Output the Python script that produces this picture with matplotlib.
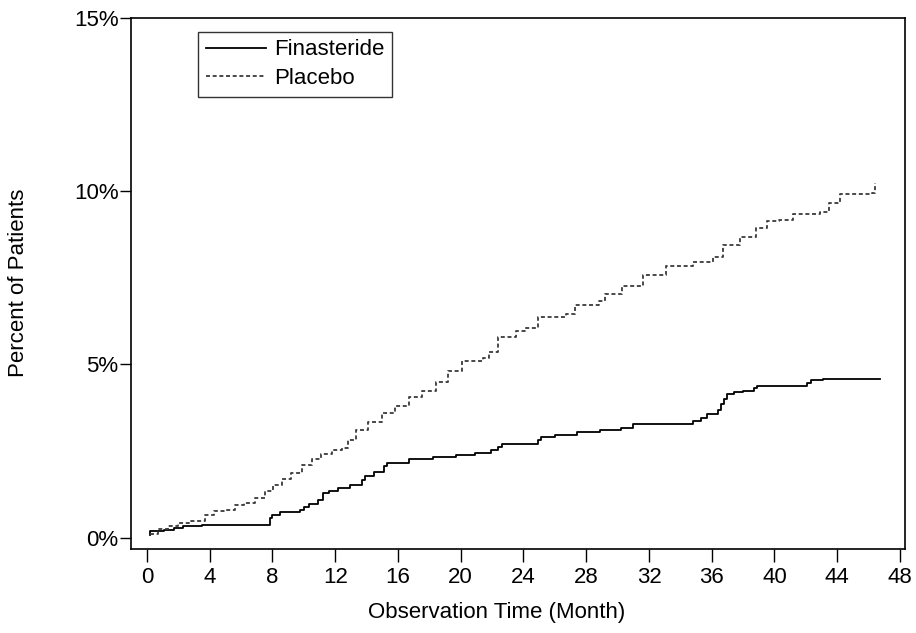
import matplotlib.pyplot as plt
from matplotlib.ticker import FuncFormatter

# step curves (month, cumulative %)
fin_t = [0.17, 0.2, 1.1, 1.7, 2.3, 3.5, 7.85, 8.0, 8.5, 9.75, 10.0, 10.3, 10.9, 11.25,
         11.6, 12.2, 12.95, 13.7, 13.9, 14.5, 15.1, 15.3, 16.7, 18.2, 19.7, 20.9, 21.9,
         22.4, 22.6, 24.9, 25.1, 26.0, 27.4, 28.9, 30.2, 31.0, 34.8, 35.3, 35.7, 36.4,
         36.6, 36.8, 37.0, 37.4, 38.0, 38.7, 38.9, 42.1, 42.3, 43.1, 46.7]
fin_p = [0.09, 0.18, 0.23, 0.28, 0.33, 0.38, 0.57, 0.66, 0.73, 0.81, 0.9, 0.98, 1.1, 1.29,
         1.34, 1.43, 1.53, 1.67, 1.77, 1.91, 2.08, 2.15, 2.28, 2.34, 2.38, 2.44, 2.54,
         2.62, 2.70, 2.83, 2.90, 2.95, 3.06, 3.12, 3.17, 3.27, 3.37, 3.44, 3.58, 3.69,
         3.86, 4.0, 4.14, 4.2, 4.24, 4.32, 4.38, 4.46, 4.54, 4.59, 4.59]

pla_t = [0.17, 0.7, 1.34, 2.0, 2.8, 3.7, 4.3, 5.0, 5.6, 6.2, 6.9, 7.5, 8.05, 8.6, 9.2,
         9.9, 10.5, 11.1, 11.8, 12.4, 12.8, 13.3, 14.1, 15.0, 15.8, 16.7, 17.5, 18.4,
         19.2, 20.1, 21.4, 21.8, 22.4, 23.5, 24.1, 24.9, 26.7, 27.3, 28.8, 29.2, 30.3,
         31.6, 33.1, 34.8, 36.1, 36.7, 37.8, 38.8, 39.5, 40.3, 41.2, 42.9, 43.5, 44.2,
         46.2, 46.4]
pla_p = [0.1, 0.25, 0.33, 0.42, 0.47, 0.66, 0.76, 0.81, 0.95, 1.0, 1.14, 1.34, 1.53, 1.69,
         1.87, 2.1, 2.27, 2.42, 2.52, 2.59, 2.83, 3.1, 3.35, 3.6, 3.79, 4.05, 4.22, 4.5,
         4.8, 5.09, 5.18, 5.37, 5.78, 5.95, 6.05, 6.38, 6.46, 6.72, 6.82, 7.04, 7.25,
         7.59, 7.83, 7.94, 8.1, 8.45, 8.67, 8.93, 9.15, 9.17, 9.35, 9.41, 9.65, 9.92,
         9.94, 10.23]

x_ticks = list(range(0, 49, 4))
y_ticks = [0, 5, 10, 15]

plt.rcParams['font.family'] = ['Liberation Sans', 'DejaVu Sans']

fig = plt.figure(figsize=(9.16, 6.33), dpi=100)
ax = fig.add_axes([0.143, 0.133, 0.845, 0.839])

ax.plot(fin_t, fin_p, drawstyle='steps-post', color='black', linewidth=1.3,
        label='Finasteride')
ax.plot(pla_t, pla_p, drawstyle='steps-post', color='#3a3a3a', linewidth=1.3,
        linestyle=(0, (2.2, 1.5)), label='Placebo')

ax.set_xlim(-1.02, 48.32)
ax.set_ylim(-0.32, 15)
ax.set_xticks(x_ticks)
ax.set_yticks(y_ticks)
ax.yaxis.set_major_formatter(FuncFormatter(lambda v, p: f'{v:.0f}%'))
ax.tick_params(axis='x', direction='out', length=9, width=1, labelsize=16, pad=4)
ax.tick_params(axis='y', direction='out', length=8, width=1, labelsize=16, pad=1)
for s in ax.spines.values():
    s.set_linewidth(1.2)

ax.set_xlabel('Observation Time (Month)', fontsize=16)
ax.set_ylabel('Percent of Patients', fontsize=16)
ax.yaxis.set_label_coords(-0.145, 0.5)
ax.xaxis.set_label_coords(0.473, -0.119)
ax.xaxis.label.set_va('center')
ax.yaxis.label.set_va('center')

leg = ax.legend(loc='upper left', bbox_to_anchor=(0.087, 0.974), borderaxespad=0,
                fontsize=16, frameon=True, fancybox=False, edgecolor='black',
                handlelength=2.7, handletextpad=0.35, borderpad=0.35,
                labelspacing=0.35)
leg.get_frame().set_linewidth(1.0)

plt.savefig('out.png', dpi=100)
